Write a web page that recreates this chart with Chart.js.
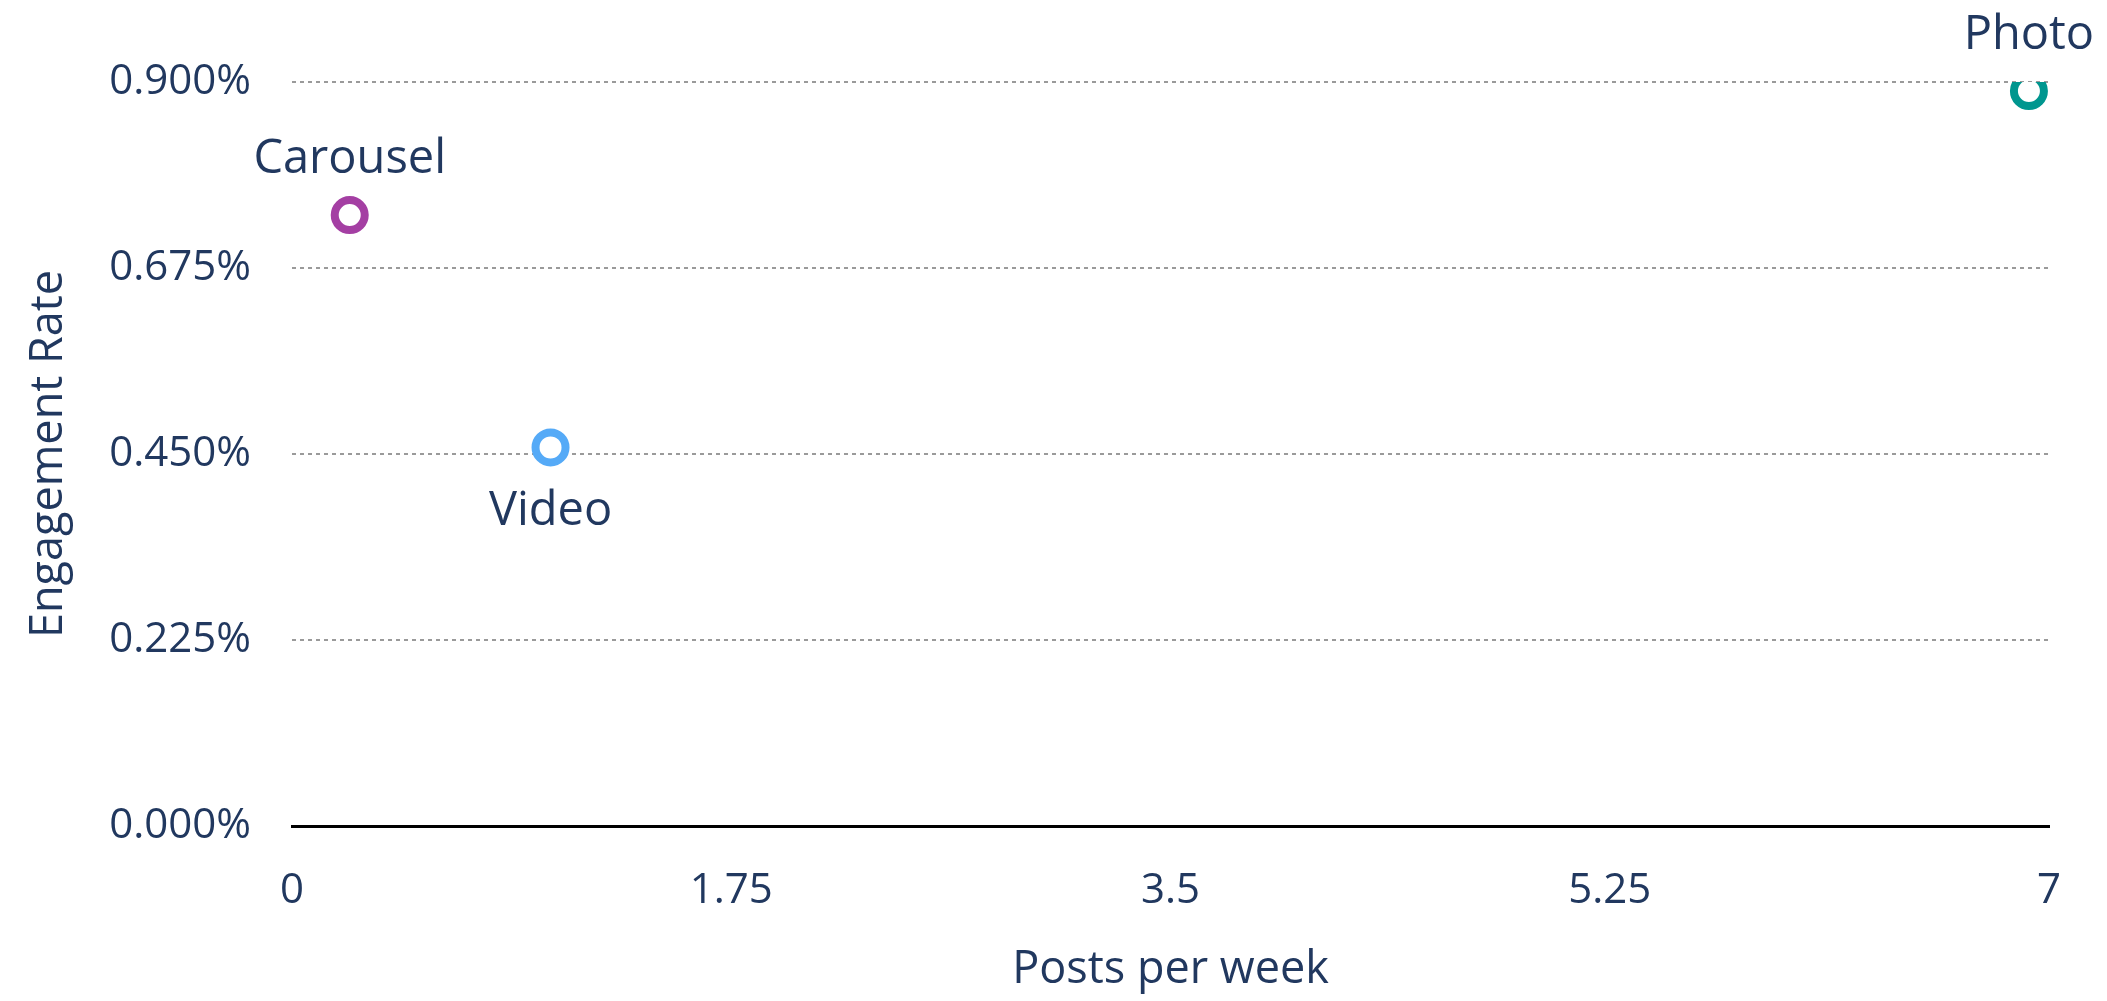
<!DOCTYPE html>
<html>
<head>
<meta charset="utf-8">
<script src="https://cdn.jsdelivr.net/npm/chart.js@4"></script>
<style>
  html, body { margin: 0; padding: 0; background: #ffffff; }
  #wrap { width: 2107px; height: 1001px; }
</style>
</head>
<body>
<div id="wrap"><canvas id="grafico" width="2107" height="1001"></canvas></div>
<script>
// Datos
const tiposPost = ['Carousel', 'Video', 'Photo'];
const postsPorSemana = [0.23, 1.03, 6.92];
const tasaEngagement = [0.739, 0.458, 0.889];
const ticksX = [0, 1.75, 3.5, 5.25, 7];
const ticksY = [0, 0.225, 0.45, 0.675, 0.9];

const coloresPunto = ['#a43fa3', '#55aaf7', '#00968f'];
const colorTexto = '#21385f';
const fuente = '"Open Sans", "Noto Sans", sans-serif';

// Etiquetas de cada punto (arriba o abajo)
const etiquetasPlugin = {
    id: 'etiquetas',
    afterDatasetsDraw(chart) {
        const ctx = chart.ctx;
        const meta = chart.getDatasetMeta(0);
        ctx.save();
        ctx.font = '47px ' + fuente;
        ctx.fillStyle = colorTexto;
        ctx.textAlign = 'center';
        ctx.textBaseline = 'middle';
        meta.data.forEach((p, i) => {
            const abajo = tiposPost[i] === 'Video';
            ctx.fillText(tiposPost[i], p.x, p.y + (abajo ? 64 : -55));
        });
        ctx.restore();
    }
};

const ctx = document.getElementById('grafico').getContext('2d');
new Chart(ctx, {
    type: 'scatter',
    data: {
        datasets: [{
            label: 'Engagement',
            data: postsPorSemana.map((x, i) => ({ x: x, y: tasaEngagement[i] })),
            backgroundColor: '#ffffff',
            borderColor: coloresPunto,
            borderWidth: 8,
            pointRadius: 15,
            pointHoverRadius: 15
        }]
    },
    options: {
        responsive: false,
        animation: false,
        maintainAspectRatio: false,
        layout: { padding: { top: 82, right: 58, left: 0, bottom: 0 } },
        plugins: {
            legend: { display: false },
            tooltip: { enabled: false }
        },
        scales: {
            x: {
                type: 'linear',
                min: 0,
                max: 7,
                afterBuildTicks: s => { s.ticks = ticksX.map(v => ({ value: v })); },
                afterFit: s => { s.height = 175; },
                grid: { display: false, drawTicks: false },
                // linea del cero, solida y negra
                border: { display: true, color: '#000000', width: 3 },
                ticks: {
                    color: colorTexto,
                    font: { family: fuente, size: 42 },
                    padding: 40,
                    maxRotation: 0,
                    callback: v => String(v)
                },
                title: {
                    display: true,
                    text: 'Posts per week',
                    color: colorTexto,
                    font: { family: fuente, size: 45 },
                    padding: { top: 17 }
                }
            },
            y: {
                type: 'linear',
                min: 0,
                max: 0.9,
                afterBuildTicks: s => { s.ticks = ticksY.map(v => ({ value: v })); },
                afterFit: s => { s.width = 292; },
                grid: {
                    drawTicks: false,
                    color: ctx => ctx.tick.value === 0 ? 'rgba(0,0,0,0)' : '#9a9a9a',
                    lineWidth: 2
                },
                border: { display: false, dash: [4, 4] },
                ticks: {
                    color: colorTexto,
                    font: { family: fuente, size: 42 },
                    padding: 41,
                    callback: v => v.toFixed(3) + '%'
                },
                title: {
                    display: true,
                    text: 'Engagement Rate',
                    color: colorTexto,
                    font: { family: fuente, size: 45 },
                    padding: { top: 22, bottom: 0 }
                }
            }
        }
    },
    plugins: [etiquetasPlugin]
});
</script>
</body>
</html>
